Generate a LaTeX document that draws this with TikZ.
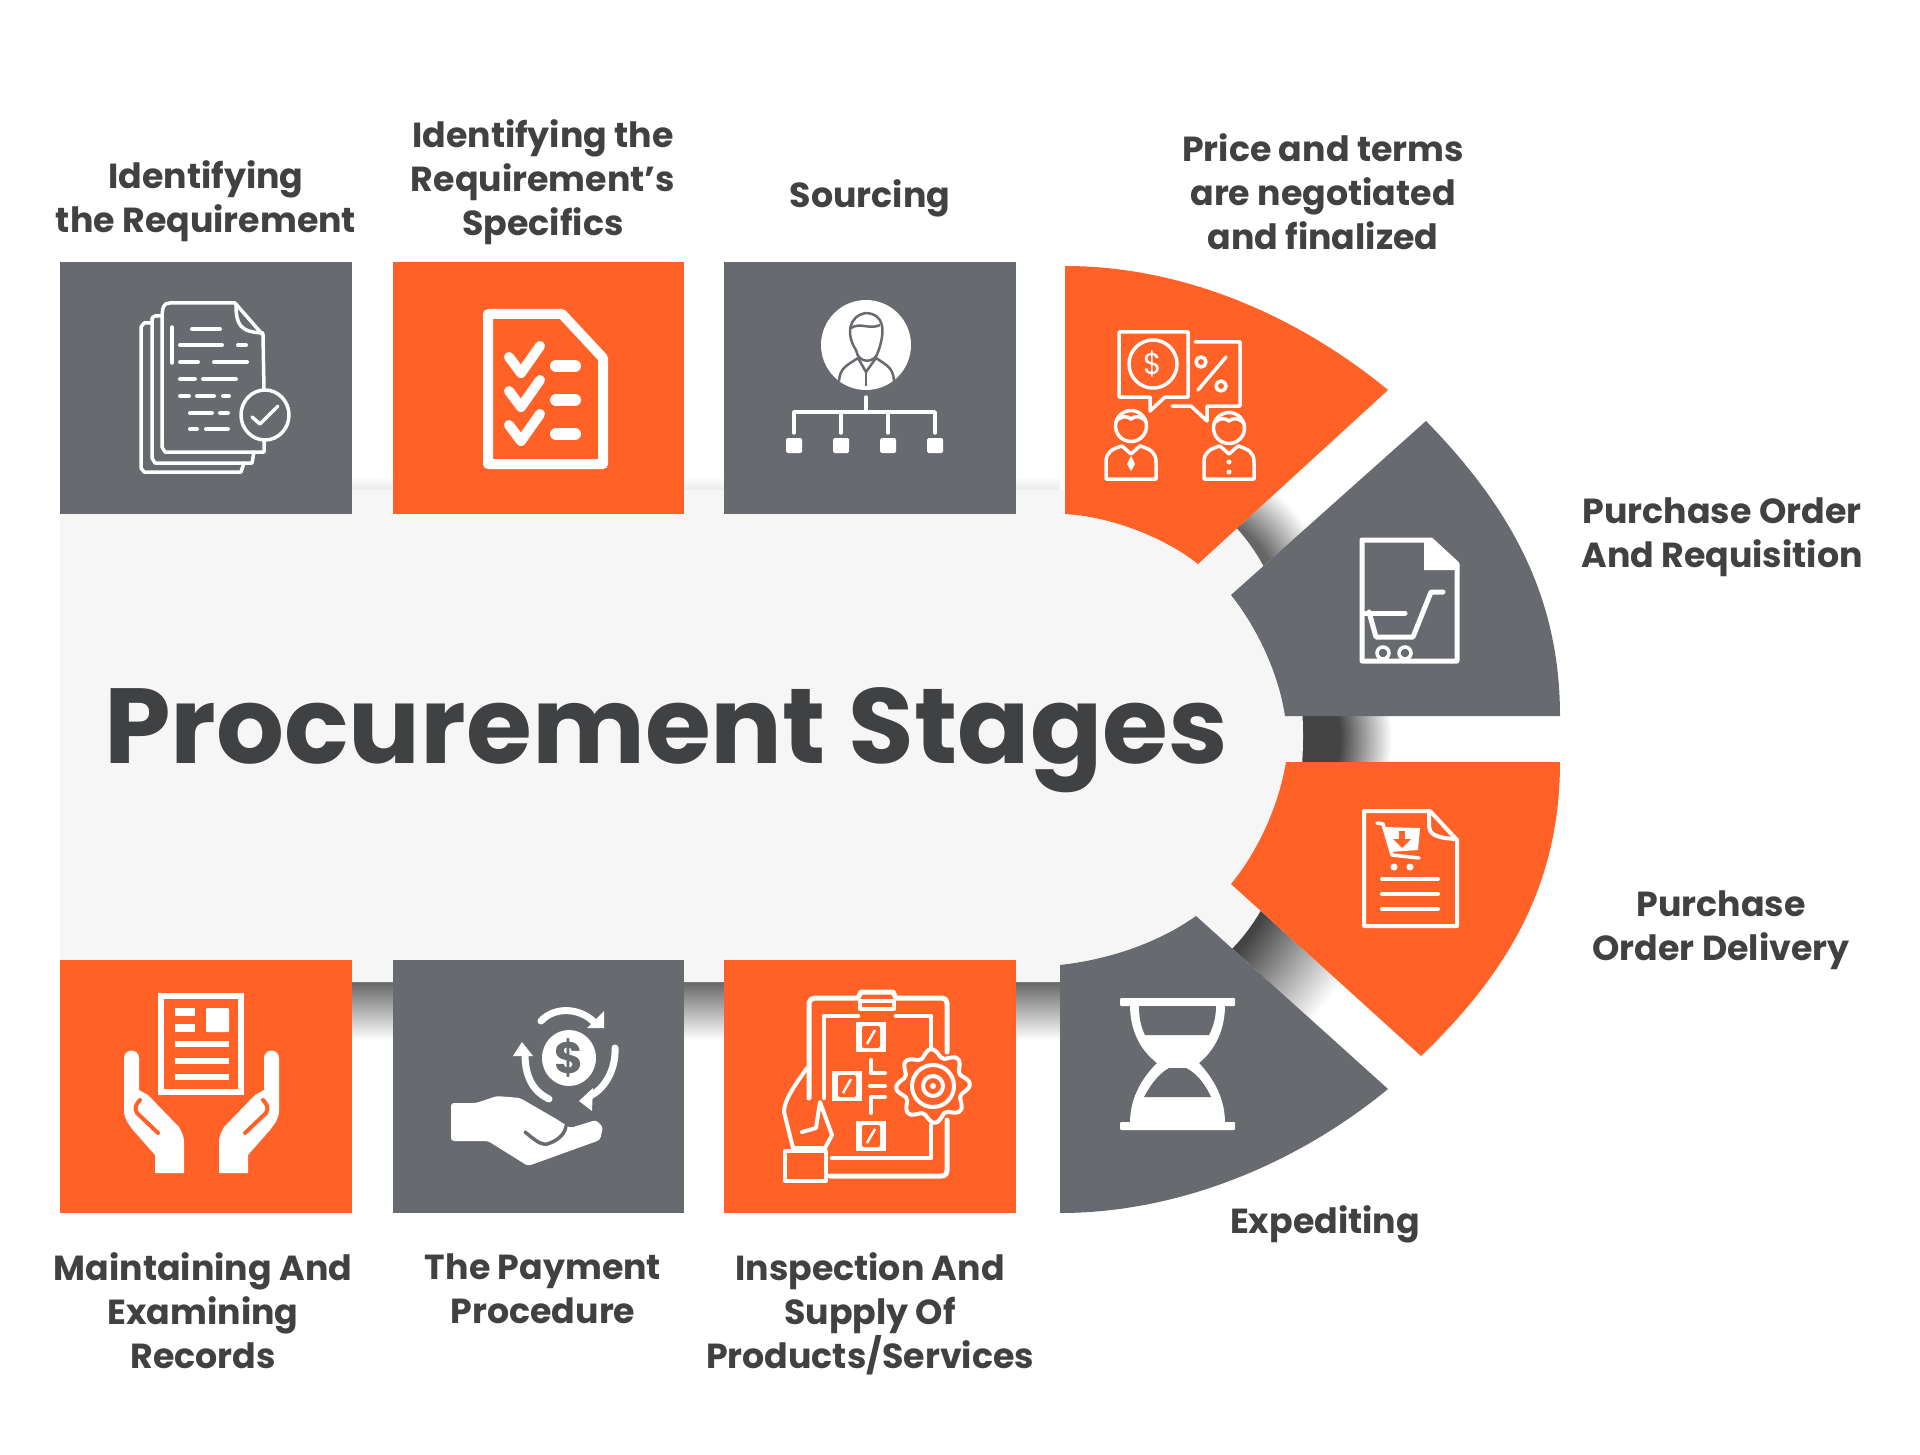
\documentclass[tikz,border=0pt]{standalone}
\usepackage{fontspec}
\setmainfont{Poppins}
\usepackage{tikz}

\definecolor{stageorange}{HTML}{FF6127}
\definecolor{stagegrey}{HTML}{676A6E}
\definecolor{paneltone}{HTML}{F6F6F6}
\definecolor{labeltone}{HTML}{404143}
\definecolor{gapdark}{HTML}{444444}
\definecolor{gapmid}{HTML}{666666}

\pgfdeclareradialshading{gapfade}{\pgfpoint{0bp}{0bp}}{color(0bp)=(gapdark); color(16.5bp)=(gapdark); color(24.5bp)=(white); color(50bp)=(white)}
\pgfdeclareradialshading{gapfadelight}{\pgfpoint{0bp}{0bp}}{color(0bp)=(gapmid); color(16.5bp)=(gapmid); color(24.5bp)=(white); color(50bp)=(white)}

\begin{document}
\begin{tikzpicture}[x=1pt,y=-1pt,
    stagelabel/.style={font=\fontsize{34.8}{44}\selectfont\bfseries,text=labeltone,align=center,inner sep=0pt},
    iconline/.style={draw=white,line width=3.5pt,line cap=round,line join=round},
    iconthick/.style={draw=white,line width=5pt,line cap=round,line join=round},
    iconfill/.style={fill=white,draw=none}]
    \useasboundingbox (0,0) rectangle (1920,1455);
    \fill[white] (0,0) rectangle (1920,1455);

    % Shadows in the gaps
    \shade[top color=white,bottom color=black!8] (60,476) rectangle (1060,490);
    \shade[top color=gapmid,bottom color=white] (352,982) rectangle (393,1040);
    \shade[top color=gapmid,bottom color=white] (684,982) rectangle (724,1040);
    \shade[top color=gapmid,bottom color=white] (1016,982) rectangle (1062,1040);
    \begin{scope}
        \clip (1290,716) rectangle (1420,762);
        \shade[shading=gapfade] (1233,739) circle (162);
    \end{scope}
    \begin{scope}
        \clip (1196,916) -- (1231,884) -- (1421,1056) -- (1388,1089) -- cycle;
        \shade[shading=gapfade] (1079,816) circle (316);
    \end{scope}
    \begin{scope}
        \clip (1198,564) -- (1231,595) -- (1426,421) -- (1388,390) -- cycle;
        \shade[shading=gapfadelight] (1179,611) circle (156);
    \end{scope}

    % Draw the centre panel
    \fill[paneltone] (60,490) -- (1160,490) arc [start angle=-90,end angle=90,x radius=143,y radius=246] -- (60,982) -- cycle;

    % Square tiles
    \fill[stagegrey] (60,262) rectangle (352,514);
    \fill[stageorange] (393,262) rectangle (684,514);
    \fill[stagegrey] (724,262) rectangle (1016,514);
    \fill[stageorange] (60,960) rectangle (352,1213);
    \fill[stagegrey] (393,960) rectangle (684,1213);
    \fill[stageorange] (724,960) rectangle (1016,1213);

    % Curved tiles
    \fill[stageorange] (1065,266) .. controls (1184,266) and (1298,316) .. (1388,390)
        -- (1198,564) .. controls (1160,534) and (1105,516) .. (1065,514) -- cycle;
    \fill[stagegrey] (1560,716) .. controls (1560,597) and (1511,508) .. (1426,421)
        -- (1231,595) .. controls (1255,625) and (1278,670) .. (1285,716) -- cycle;
    \fill[stageorange] (1560,762) .. controls (1560,881) and (1511,970) .. (1421,1056)
        -- (1231,884) .. controls (1255,855) and (1278,810) .. (1286,762) -- cycle;
    \fill[stagegrey] (1060,1213) .. controls (1180,1213) and (1298,1163) .. (1388,1089)
        -- (1196,916) .. controls (1155,945) and (1105,960) .. (1060,965) -- cycle;

    % Title and labels
    \node[inner sep=0pt,font=\fontsize{106.7}{120}\selectfont\bfseries,text=labeltone] (title) at (666,740) {Procurement Stages};
    \node[stagelabel] (lbidentify) at (206,201) {Identifying\\the Requirement};
    \node[stagelabel] (lbspecifics) at (543,182) {Identifying the\\Requirement’s\\Specifics};
    \node[stagelabel] (lbsourcing) at (870,198) {Sourcing};
    \node[stagelabel] (lbprice) at (1323,192) {Price and terms\\are negotiated\\and finalized};
    \node[stagelabel] (lbrequisition) at (1722,537) {Purchase Order\\And Requisition};
    \node[stagelabel] (lbdelivery) at (1721,930) {Purchase\\Order Delivery};
    \node[stagelabel] (lbexpedite) at (1325,1224) {Expediting};
    \node[stagelabel] (lbrecords) at (203,1311) {Maintaining And\\Examining\\Records};
    \node[stagelabel] (lbpayment) at (543,1289) {The Payment\\Procedure};
    \node[stagelabel] (lbsupply) at (870,1314) {Inspection And\\Supply Of\\Products/Services};

    % Icon: stacked sheets
    \draw[iconline] (162,320) -- (162,447) -- (165,452) -- (264,452) -- (264,440);
    \draw[iconline] (162,320) .. controls (162,306) and (164,303) .. (170,303) -- (235,303) -- (263,335) -- (264,390);
    \draw[iconline] (236,304) .. controls (236,325) and (240,332) .. (263,333);
    \draw[iconline] (152,318) -- (152,458) -- (155,463) -- (252,463) -- (254,452);
    \draw[iconline] (141,327) -- (141,468) -- (144,472) -- (241,472) -- (244,463);
    \draw[iconline] (141,327) -- (144,323) -- (152,323);
    \draw[iconline] (152,318) -- (155,316) -- (162,316);
    \draw[iconline] (265,415) ellipse (24 and 25);
    \draw[iconline] (252,417) -- (260,424) -- (278,406);
    \draw[iconline] (172,327) -- (172,363);
    \foreach \ya/\xa/\xb in {329/192/220,345/180/222,345/238/246,362/180/198,362/214/247,379/180/195,379/203/236,396/180/189,396/197/214,396/223/229,413/190/212,413/220/228,429/190/197,429/206/228}
        \draw[iconline,line width=4pt] (\xa,\ya) -- (\xb,\ya);

    % Icon: checklist
    \draw[draw=white,line width=10pt,line join=round] (488,314) -- (562,314) -- (603,358) -- (603,464) -- (488,464) -- cycle;
    \foreach \off in {0,34,68} {
        \draw[draw=white,line width=10pt,line cap=round,line join=round] (509,357+\off) -- (521,373+\off) -- (540,346+\off);
        \draw[draw=white,line width=12pt,line cap=round] (556,366+\off) -- (575,366+\off);
    }

    % Icon: person over hierarchy
    \fill[white] (866,345) circle (45);
    \draw[stagegrey,line width=2.5pt,line join=round] (856,350) .. controls (846,335) and (848,316) .. (866,313) .. controls (884,314) and (886,330) .. (878,352) .. controls (875,364) and (858,364) .. (856,350);
    \draw[stagegrey,line width=2.5pt] (851,328) .. controls (860,322) and (870,330) .. (880,325);
    \draw[stagegrey,line width=2.5pt,line join=round] (839,381) .. controls (840,368) and (846,366) .. (858,358) -- (866,372) -- (876,358) .. controls (888,366) and (893,368) .. (894,381);
    \draw[stagegrey,line width=2pt] (866,372) -- (866,386);
    \draw[iconline] (866,397) -- (866,412);
    \draw[iconline] (794,433) -- (794,412) -- (935,412) -- (935,433);
    \draw[iconline] (841,412) -- (841,433);
    \draw[iconline] (888,412) -- (888,433);
    \foreach \xa in {794,841,888,935}
        \fill[white,rounded corners=1.5pt] (\xa-8,438) rectangle (\xa+8,453);

    % Icon: negotiation
    \draw[iconline] (1119,332) -- (1188,332) -- (1188,397) -- (1165,397) -- (1150,411) -- (1150,397) -- (1119,397) -- cycle;
    \draw[iconline] (1153,364) circle (24);
    \node[inner sep=0pt,font=\fontsize{30}{30}\selectfont,text=white] (dollarbubble) at (1153,364) {\$};
    \draw[iconline] (1195,342) -- (1240,342) -- (1240,406) -- (1207,406) -- (1207,421) -- (1191,406) -- (1172,406);
    \draw[iconline] (1201,362) circle (5);
    \draw[iconline] (1221,386) circle (5);
    \draw[iconline] (1198,390) -- (1226,357);
    \foreach \xa/\ya in {1131/426,1229/428} {
        \draw[iconline] (\xa,\ya) circle (15.5);
        \draw[iconline] (\xa-15,\ya-5) .. controls (\xa-8,\ya-11) and (\xa-4,\ya-10) .. (\xa,\ya-7) .. controls (\xa+4,\ya-10) and (\xa+8,\ya-11) .. (\xa+15,\ya-5);
    }
    \draw[iconline] (1106,479) -- (1106,462) .. controls (1106,452) and (1112,449) .. (1122,446) -- (1131,454) -- (1140,446) .. controls (1150,449) and (1156,452) .. (1156,462) -- (1156,479) -- cycle;
    \draw[iconline] (1204,479) -- (1204,462) .. controls (1204,452) and (1210,449) .. (1220,446) -- (1229,454) -- (1238,446) .. controls (1248,449) and (1254,452) .. (1254,462) -- (1254,479) -- cycle;
    \fill[white] (1131,456) -- (1135,464) -- (1131,471) -- (1127,464) -- cycle;
    \fill[white] (1229,462) circle (2.5);
    \fill[white] (1229,472) circle (2.5);

    % Icon: sheet with cart
    \draw[iconthick] (1362,540) -- (1431,540) -- (1457,564) -- (1457,661) -- (1362,661) -- cycle;
    \fill[white] (1424,540) -- (1431,540) -- (1459,564) -- (1459,570) -- (1424,570) -- cycle;
    \draw[iconthick] (1443,592) -- (1431,592) -- (1413,637) -- (1376,637) -- (1369,612);
    \draw[iconthick] (1364,613) -- (1405,613);
    \fill[stagegrey] (1383,653) circle (4);
    \fill[stagegrey] (1405,653) circle (4);
    \draw[white,line width=3.5pt] (1383,653) circle (6);
    \draw[white,line width=3.5pt] (1405,653) circle (6);

    % Icon: sheet with order arrow
    \draw[iconline,line width=4pt] (1364,813) -- (1364,926) -- (1457,926) -- (1457,840) -- (1430,811) -- (1364,811) -- cycle;
    \draw[iconline,line width=4pt] (1429,812) -- (1429,826) .. controls (1429,833) and (1434,838) .. (1456,839);
    \foreach \ya in {879,894,909}
        \draw[iconline,line width=4pt] (1382,\ya) -- (1438,\ya);
    \draw[iconline] (1377,823) -- (1383,824) -- (1392,855) -- (1419,858);
    \fill[white] (1384,827) -- (1420,828) -- (1418,850) -- (1390,852) -- cycle;
    \fill[stageorange] (1399,831) rectangle (1405,839);
    \fill[stageorange] (1393,839) -- (1411,839) -- (1402,848) -- cycle;
    \fill[white] (1394,867) circle (3.5);
    \fill[white] (1410,867) circle (3.5);

    % Icon: hourglass
    \fill[white,rounded corners=1pt] (1120,998) rectangle (1235,1006);
    \fill[white,rounded corners=1pt] (1120,1122) rectangle (1235,1130);
    \fill[white] (1130,1005) .. controls (1130,1030) and (1140,1050) .. (1157,1063) .. controls (1140,1080) and (1130,1100) .. (1130,1123) -- (1225,1123) .. controls (1225,1100) and (1215,1080) .. (1199,1063) .. controls (1215,1050) and (1225,1030) .. (1225,1005) -- cycle;
    \fill[stagegrey] (1139,1006) -- (1216,1006) .. controls (1216,1018) and (1213,1027) .. (1209,1035) -- (1145,1035) .. controls (1141,1027) and (1139,1018) .. (1139,1006) -- cycle;
    \fill[stagegrey] (1169,1068) -- (1186,1068) .. controls (1198,1074) and (1206,1086) .. (1211,1097) -- (1144,1097) .. controls (1150,1086) and (1158,1074) .. (1169,1068) -- cycle;

    % Icon: hands holding record
    \draw[draw=white,line width=6pt] (161,996) rectangle (241,1092);
    \fill[white] (175,1008) rectangle (195,1016);
    \fill[white] (175,1024) rectangle (195,1032);
    \fill[white,rounded corners=1pt] (206,1008) rectangle (229,1032);
    \foreach \ya in {1044,1061,1077}
        \draw[draw=white,line width=6pt] (175,\ya) -- (229,\ya);
    \foreach \flip/\off in {1/0,-1/403} {
        \begin{scope}[shift={(\off,0)},xscale=\flip]
            \fill[white] (124,1058) arc [start angle=180,end angle=360,radius=7.5] -- (139,1090) -- (148,1095) -- (179,1127) .. controls (182,1133) and (184,1136) .. (184,1142) -- (184,1173) -- (155,1173) -- (155,1155) -- (133,1130) .. controls (127,1122) and (124,1118) .. (124,1110) -- cycle;
            \draw[stageorange,line width=4pt,line cap=round] (140,1100) .. controls (136,1104) and (134,1108) .. (137,1113) -- (158,1133);
        \end{scope}
    }

    % Icon: hand with coin
    \fill[white] (569,1058) ellipse (27 and 28);
    \node[inner sep=0pt,font=\fontsize{44}{44}\selectfont\bfseries,text=stagegrey] (dollarcoin) at (569,1058) {\$};
    \draw[draw=white,line width=7pt,line cap=round] (541,1021) .. controls (555,1006) and (580,1008) .. (594,1022);
    \fill[white] (604,1011) -- (604,1028) -- (587,1028) -- cycle;
    \draw[draw=white,line width=7pt,line cap=round] (549,1099) .. controls (530,1090) and (525,1072) .. (525,1054);
    \fill[white] (522,1042) -- (533,1056) -- (513,1056) -- cycle;
    \draw[draw=white,line width=7pt,line cap=round] (615,1048) .. controls (616,1068) and (606,1088) .. (590,1096);
    \fill[white] (592,1111) -- (579,1101) -- (593,1088) -- cycle;
    \fill[white,rounded corners=3pt] (451,1103) -- (451,1141) -- (488,1141) -- (528,1166) -- (600,1140) -- (603,1127) -- (596,1120) -- (570,1128) -- (558,1120) -- (520,1098) -- (497,1096) -- (476,1103) -- cycle;
    \draw[stagegrey,line width=3.5pt,line cap=round] (525,1132) .. controls (535,1140) and (542,1147) .. (550,1143) .. controls (558,1140) and (565,1134) .. (566,1126);

    % Icon: clipboard with gear
    \draw[iconline,line width=5pt] (809,1098) -- (809,1003) .. controls (809,1000) and (812,998) .. (815,998) -- (858,998) -- (861,992) -- (893,992) -- (896,998) -- (942,998) .. controls (945,998) and (947,1000) .. (947,1003) -- (947,1052);
    \draw[iconline,line width=5pt] (947,1120) -- (947,1170) .. controls (947,1174) and (945,1176) .. (941,1176) -- (830,1176);
    \draw[iconline,line width=4.5pt] (824,1098) -- (824,1016) -- (858,1016);
    \draw[iconline,line width=4.5pt] (896,1016) -- (931,1016) -- (931,1047);
    \draw[iconline,line width=4.5pt] (931,1125) -- (931,1158) -- (832,1158);
    \draw[iconline,line width=4pt] (860,1001) rectangle (894,1009);
    \foreach \xa/\ya in {871/1037,847/1086,871/1136} {
        \fill[white] (\xa-15,\ya-15) rectangle (\xa+15,\ya+15);
        \fill[stageorange,rounded corners=2pt] (\xa-9,\ya-11) rectangle (\xa+9,\ya+11);
        \draw[draw=white,line width=2.5pt] (\xa-4,\ya+7) -- (\xa+4,\ya-7);
    }
    \draw[iconline,line width=4pt] (871,1060) -- (871,1073) -- (885,1073);
    \draw[iconline,line width=4pt] (870,1086) -- (885,1086);
    \draw[iconline,line width=4pt] (885,1097) -- (871,1097) -- (871,1113);
    \draw[iconline,line width=4pt,fill=stageorange] plot[smooth cycle,domain=0:352.5,samples=48] ({933+(33+4*cos(8*\x+22.5))*cos(\x)},{1086+(33+4*cos(8*\x+22.5))*sin(\x)});
    \draw[iconline,line width=4pt] (933,1086) circle (21);
    \draw[iconline,line width=4pt] (933,1086) circle (10);
    \fill[white] (933,1086) circle (3);
    \draw[iconline,line width=4pt] (807,1068) .. controls (795,1085) and (784,1100) .. (784,1112) -- (793,1148) -- (825,1148) -- (832,1135) -- (820,1102) -- (816,1128) -- (802,1132);
    \draw[iconline,line width=4pt,fill=stageorange] (785,1151) rectangle (826,1181);
\end{tikzpicture}
\end{document}
